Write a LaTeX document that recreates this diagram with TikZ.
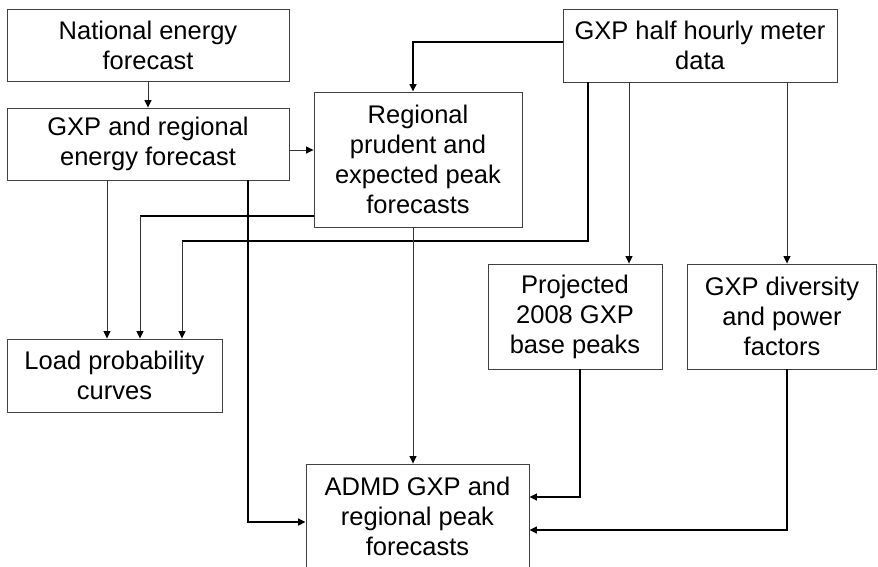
\documentclass[tikz,border=0pt]{standalone}
\usepackage{fontspec}
\setmainfont{Liberation Sans}
\usetikzlibrary{arrows.meta}
\begin{document}
\begin{tikzpicture}[x=1pt,y=-1pt,
  box/.style={draw=black!75,line width=0.9pt,inner sep=0pt,align=center,
              font=\fontsize{25.5}{30}\selectfont},
  thin/.style={draw=black!80,line width=0.9pt},
  thk/.style={draw=black,line width=1.5pt},
  tip/.style={-{Triangle[length=7.5pt,width=7pt,color=black]}}]
\useasboundingbox (0,0) rectangle (878,566);
\clip (0,0) rectangle (878,566);
% boxes
\node[box,minimum width=282,minimum height=72] (natl) at (148,45) {National energy\\forecast};
\node[box,minimum width=282,minimum height=72] (gxpr) at (148,144) {GXP and regional\\energy forecast};
\node[box,minimum width=208,minimum height=135] (reg) at (418,159.5) {Regional\\prudent and\\expected peak\\forecasts};
\node[box,minimum width=274,minimum height=73] (hh) at (700,45.5) {GXP half hourly meter\\data};
\node[box,minimum width=215,minimum height=73] (lp) at (114.5,375.5) {Load probability\\curves};
\node[box,minimum width=174,minimum height=105] (proj) at (575,316.5) {Projected\\2008 GXP\\base peaks};
\node[box,minimum width=189,minimum height=105] (div) at (782,316.5) {GXP diversity\\and power\\factors};
\node[box,minimum width=223,minimum height=104] (admd) at (417.5,516) {ADMD GXP and\\regional peak\\forecasts};
% coordinates
\coordinate (a1) at (413,42);
\coordinate (b1) at (588,241);
\coordinate (b2) at (182,241);
\coordinate (c1) at (629,0);
\coordinate (d1) at (787,0);
\coordinate (e1) at (107,0);
\coordinate (f1) at (248,522);
\coordinate (g1) at (140,216);
\coordinate (h1) at (413,0);
\coordinate (i1) at (580,497);
\coordinate (j1) at (787,530);
\coordinate (k1) at (0,150);
% connectors
\draw[thin,tip] (natl.south) -- (gxpr.north);
\draw[thin,tip] (gxpr.east |- k1) -- (reg.west |- k1);
\draw[thk,tip] (hh.west |- a1) -- (a1) -- (a1 |- reg.north);
\draw[thk] (hh.south -| b1) -- (b1) -- (b2);
\draw[thin,tip] (b2) -- (b2 |- lp.north);
\draw[thin,tip] (hh.south -| c1) -- (c1 |- proj.north);
\draw[thin,tip] (hh.south -| d1) -- (d1 |- div.north);
\draw[thin,tip] (gxpr.south -| e1) -- (e1 |- lp.north);
\draw[thk,tip] (gxpr.south -| f1) -- (f1) -- (f1 -| admd.west);
\draw[thk] (reg.west |- g1) -- (g1);
\draw[thin,tip] (g1) -- (g1 |- lp.north);
\draw[thin,tip] (reg.south -| h1) -- (h1 |- admd.north);
\draw[thk,tip] (proj.south -| i1) -- (i1) -- (i1 -| admd.east);
\draw[thk,tip] (div.south -| j1) -- (j1) -- (j1 -| admd.east);
\end{tikzpicture}
\end{document}
